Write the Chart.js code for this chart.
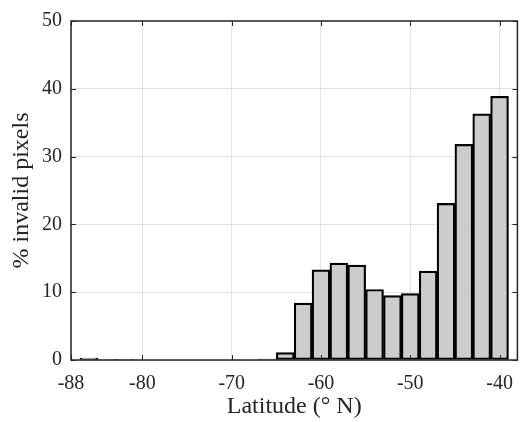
<!DOCTYPE html>
<html>
<head>
<meta charset="utf-8">
<script src="https://cdn.jsdelivr.net/npm/chart.js@4.4.1/dist/chart.umd.min.js"></script>
<style>
html,body{margin:0;padding:0;background:#fff;}
#wrap{width:525px;height:422px;}
</style>
</head>
<body>
<div id="wrap"><canvas id="c" width="525" height="422"></canvas></div>
<script>
// Bin centers (2° bins from -87 to -39)
const binCenters = [-86,-84,-82,-80,-78,-76,-74,-72,-70,-68,-66,-64,-62,-60,-58,-56,-54,-52,-50,-48,-46,-44,-42,-40];
const invalidPct = [0.3,0.1,0.1,0,0,0,0,0,0,0,0.15,1.1,8.4,13.3,14.3,14.0,10.4,9.5,9.8,13.1,23.1,31.8,36.3,38.9];
const xTicks = [-88,-80,-70,-60,-50,-40];
const yTicks = [0,10,20,30,40,50];
const xTitle = 'Latitude (° N)';
const yTitle = '% invalid pixels';

const TICKFONT = {family:'"Liberation Serif", serif', size:20};
const TITLEFONT = {family:'"Liberation Serif", serif', size:24};
const TXT = '#262626';

const boxPlugin = {
  id:'box',
  afterDraw(chart){
    const {ctx, chartArea:a, scales} = chart;
    ctx.save();
    ctx.strokeStyle = '#262626';
    ctx.lineWidth = 1;
    const tl = 5;
    ctx.beginPath();
    xTicks.forEach(v=>{
      const x = Math.round(scales.x.getPixelForValue(v))+0.5;
      ctx.moveTo(x,a.bottom); ctx.lineTo(x,a.bottom-tl);
      ctx.moveTo(x,a.top); ctx.lineTo(x,a.top+tl);
    });
    yTicks.forEach(v=>{
      const y = Math.round(scales.y.getPixelForValue(v))+0.5;
      ctx.moveTo(a.left,y); ctx.lineTo(a.left+tl,y);
      ctx.moveTo(a.right,y); ctx.lineTo(a.right-tl,y);
    });
    ctx.stroke();
    ctx.lineWidth = 1.5;
    ctx.strokeRect(a.left, a.top, a.right-a.left, a.bottom-a.top);
    ctx.restore();
  }
};

new Chart(document.getElementById('c'), {
  type:'bar',
  data:{
    datasets:[{
      data: binCenters.map((x,i)=>({x:x, y:invalidPct[i]})),
      backgroundColor:'#cccccc',
      borderColor:'#000000',
      borderWidth:2.2,
      borderSkipped:false,
      barPercentage:1,
      categoryPercentage:1
    }]
  },
  options:{
    responsive:false,
    animation:false,
    events:[],
    layout:{padding:{left:0,right:3,top:19,bottom:0}},
    plugins:{legend:{display:false},tooltip:{enabled:false}},
    scales:{
      x:{
        type:'linear',
        min:-88,max:-38,
        offset:false,
        afterBuildTicks(s){ s.ticks = xTicks.map(v=>({value:v})); },
        afterFit(s){ s.height = 62; },
        grid:{color:'#e3e3e3', lineWidth:1, drawTicks:false, offset:false},
        border:{display:false},
        ticks:{font:TICKFONT, color:TXT, padding:12, maxRotation:0, autoSkip:false},
        title:{display:true, text:xTitle, font:TITLEFONT, color:TXT, padding:{top:0,bottom:1}}
      },
      y:{
        min:0,max:50,
        afterBuildTicks(s){ s.ticks = yTicks.map(v=>({value:v})); },
        afterFit(s){ s.width = 71; },
        grid:{color:'#e3e3e3', lineWidth:1, drawTicks:false},
        border:{display:false},
        ticks:{font:TICKFONT, color:TXT, padding:9},
        title:{display:true, text:yTitle, font:TITLEFONT, color:TXT, padding:{top:7,bottom:0}}
      }
    }
  },
  plugins:[boxPlugin]
});
</script>
</body>
</html>
